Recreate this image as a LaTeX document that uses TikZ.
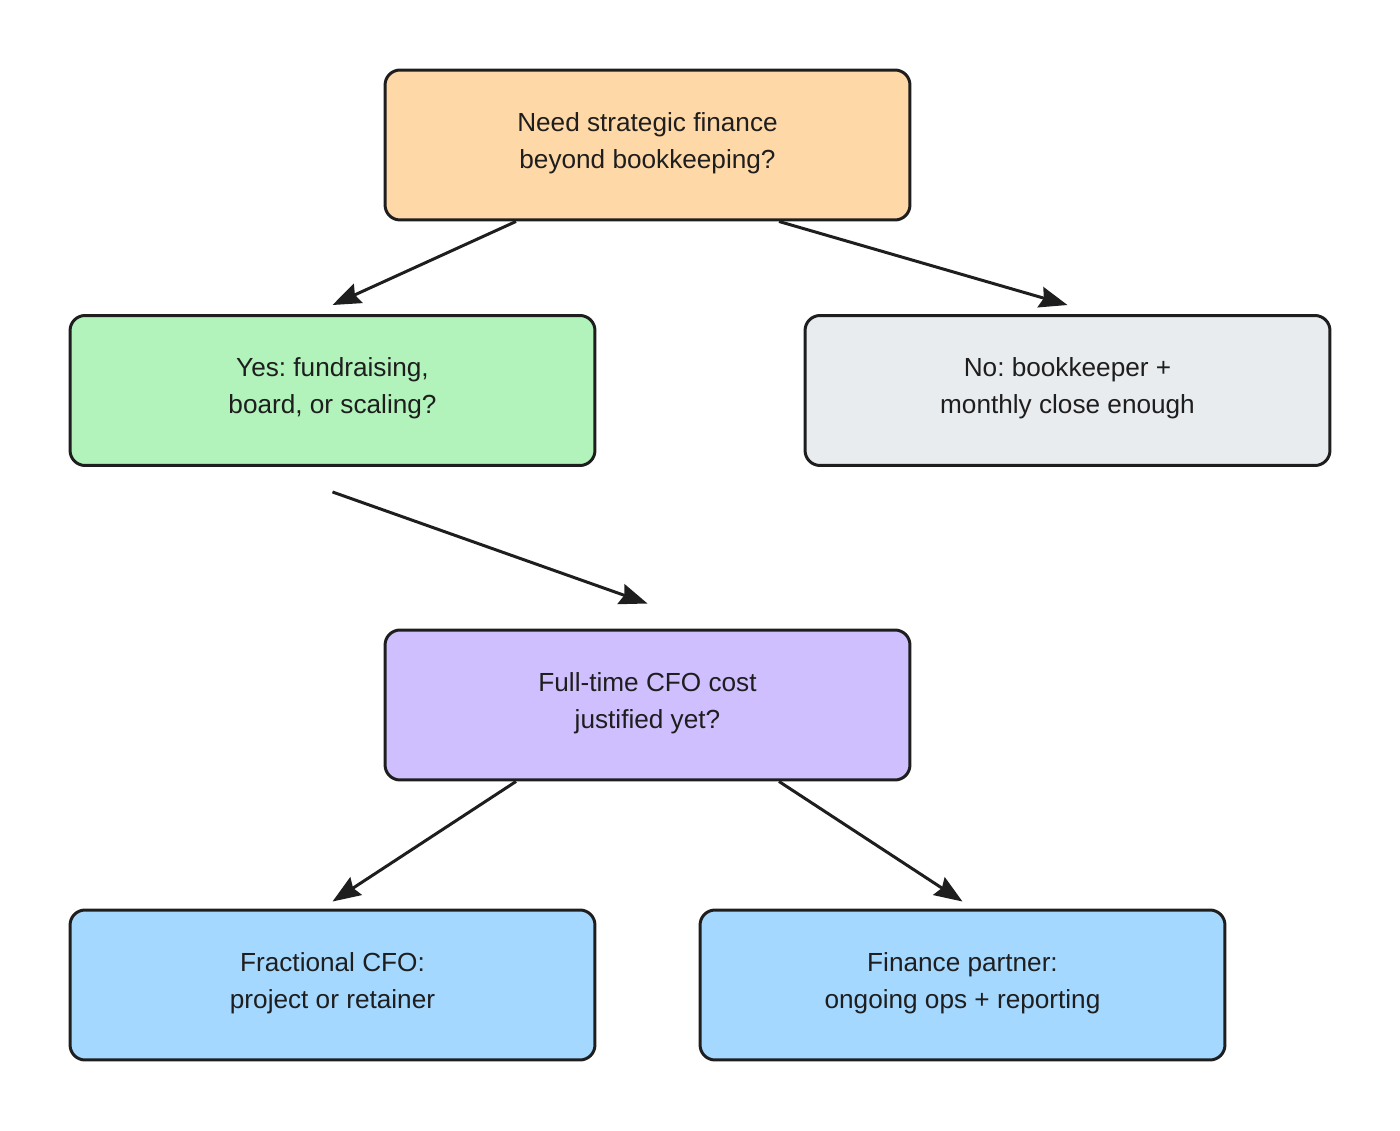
\documentclass[tikz,border=0pt]{standalone}
\usepackage{fontspec}
\setmainfont{Liberation Sans}
\frenchspacing
\usetikzlibrary{arrows.meta,calc,positioning}
\definecolor{ink}{HTML}{1E1E1E}
\definecolor{askfill}{HTML}{FFD8A8}
\definecolor{yesfill}{HTML}{B2F2BB}
\definecolor{nofill}{HTML}{E9ECEF}
\definecolor{cfofill}{HTML}{D0BFFF}
\definecolor{endfill}{HTML}{A5D8FF}
\tikzset{
        block/.style = {draw=ink, line width=1.7pt, rectangle,
            rounded corners=0.3cm, align=center, text=ink,
            font=\fontsize{14.9}{21}\selectfont, text depth=5.5pt,
            minimum height=3cm,
            minimum width=10.5cm},
        arrow/.style={draw=ink, line width=1.7pt,
            -{Stealth[length=16pt,width=12pt,inset=2pt]}},
    }

\begin{document}
\begin{tikzpicture}[x=0.02cm,y=-0.02cm]
    \useasboundingbox (0,0) rectangle (1400,1131);

    \node[block, fill=askfill] (need) at (647.5,145) {Need strategic finance\\beyond bookkeeping?};
    \node[block, fill=yesfill] (yes) at (332.5,390.5) {Yes: fundraising,\\board, or scaling?};
    \node[block, fill=nofill] (no) at (1067.5,390.5) {No: bookkeeper +\\monthly close enough};
    \node[block, fill=cfofill] (cfo) at (647.5,705) {Full-time CFO cost\\justified yet?};
    \node[block, fill=endfill] (frac) at (332.5,985) {Fractional CFO:\\project or retainer};
    \node[block, fill=endfill] (partner) at (962.5,985) {Finance partner:\\ongoing ops + reporting};

    % arrow ends stop short of the boxes
    \coordinate (needL) at ($(need.south)+(-131.5,0)$);
    \coordinate (needR) at ($(need.south)+(131.5,0)$);
    \coordinate (yesIn) at ($(yes.north)+(0,-9)$);
    \coordinate (noIn) at ($(no.north)+(0,-9)$);
    \coordinate (yesOut) at ($(yes.south)+(0,25)$);
    \coordinate (cfoIn) at ($(cfo.north)+(0,-25)$);
    \coordinate (cfoL) at ($(cfo.south)+(-131.5,0)$);
    \coordinate (cfoR) at ($(cfo.south)+(131.5,0)$);
    \coordinate (fracIn) at ($(frac.north)+(0,-7)$);
    \coordinate (partnerIn) at ($(partner.north)+(0,-7)$);

    \draw[arrow] (needL) -- (yesIn);
    \draw[arrow] (needR) -- (noIn);
    \draw[arrow] (yesOut) -- (cfoIn);
    \draw[arrow] (cfoL) -- (fracIn);
    \draw[arrow] (cfoR) -- (partnerIn);
\end{tikzpicture}
\end{document}
